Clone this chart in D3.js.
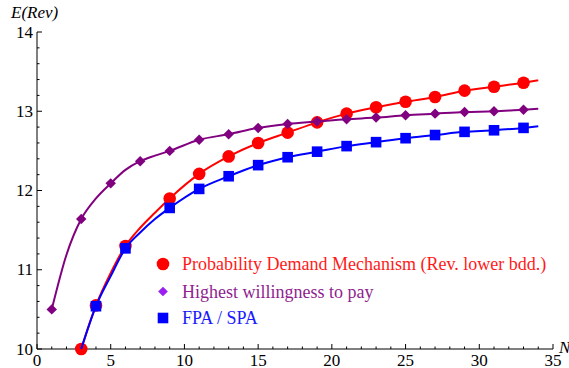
<!DOCTYPE html>
<html>
<head>
<meta charset="utf-8">
<script src="https://cdn.jsdelivr.net/npm/d3@7"></script>
<style>
  body { margin: 0; background: #fff; }
</style>
</head>
<body>
<div id="chart"></div>
<script>
// ---- data ----
const redN    = [3, 4, 5, 6, 7, 8, 9, 11, 13, 15, 17, 19, 21, 23, 25, 27, 29, 31, 33, 34];
const redV    = [10.0, 10.55, 10.96, 11.30, 11.53, 11.72, 11.90, 12.21, 12.43, 12.60, 12.73, 12.86, 12.97, 13.05, 13.12, 13.18, 13.26, 13.31, 13.36, 13.39];
const redMarks = [3, 4, 6, 9, 11, 13, 15, 17, 19, 21, 23, 25, 27, 29, 31, 33];

const purpleN = [1, 2, 3, 4, 5, 6, 7, 8, 9, 11, 13, 15, 17, 19, 21, 23, 25, 27, 29, 31, 33, 34];
const purpleV = [10.50, 11.19, 11.64, 11.90, 12.09, 12.26, 12.37, 12.44, 12.50, 12.64, 12.71, 12.79, 12.84, 12.87, 12.90, 12.92, 12.95, 12.97, 12.99, 13.00, 13.02, 13.03];
const purpleMarks = [1, 3, 5, 7, 9, 11, 13, 15, 17, 19, 21, 23, 25, 27, 29, 31, 33];

const blueN   = [3, 4, 5, 6, 7, 8, 9, 11, 13, 15, 17, 19, 21, 23, 25, 27, 29, 31, 33, 34];
const blueV   = [10.0, 10.54, 10.92, 11.27, 11.47, 11.64, 11.78, 12.02, 12.18, 12.32, 12.42, 12.49, 12.56, 12.61, 12.66, 12.70, 12.74, 12.76, 12.79, 12.81];
const blueMarks = [4, 6, 9, 11, 13, 15, 17, 19, 21, 23, 25, 27, 29, 31, 33];

const xTicks = [0, 5, 10, 15, 20, 25, 30, 35];
const yTicks = [10, 11, 12, 13, 14];

const legendLabels = [
  "Probability Demand Mechanism (Rev. lower bdd.)",
  "Highest willingness to pay",
  "FPA / SPA"
];

const FONT = "Liberation Serif";
const W = 569, H = 368;
const svg = d3.select("#chart").append("svg").attr("width", W).attr("height", H);

const x = d3.scaleLinear().domain([0, 35]).range([37, 553]);
const y = d3.scaleLinear().domain([10, 14]).range([349, 32]);

// axes (ticks point inward, like Mathematica frames)
const axisG = svg.append("g").attr("stroke", "#000").attr("fill", "none");
axisG.append("line").attr("x1", x(0)).attr("x2", x(35)).attr("y1", y(10)).attr("y2", y(10));
axisG.append("line").attr("x1", x(0)).attr("x2", x(0)).attr("y1", y(10)).attr("y2", y(14));

d3.range(0, 36, 1).forEach(v => {
  const major = v % 5 === 0;
  axisG.append("line").attr("x1", x(v)).attr("x2", x(v))
    .attr("y1", y(10)).attr("y2", y(10) - (major ? 5 : 2.5));
});
d3.range(0, 21, 1).forEach(i => {
  const v = 10 + i * 0.2;
  const major = i % 5 === 0;
  axisG.append("line").attr("y1", y(v)).attr("y2", y(v))
    .attr("x1", x(0)).attr("x2", x(0) + (major ? 5 : 2.5));
});

svg.append("g").selectAll("text").data(xTicks).join("text")
  .attr("x", d => x(d)).attr("y", 365.5).attr("font-family", FONT)
  .attr("text-anchor", "middle").attr("font-size", 17).text(d => d);

svg.append("g").selectAll("text").data(yTicks).join("text")
  .attr("x", 33).attr("y", d => y(d) + 5.5).attr("font-family", FONT)
  .attr("text-anchor", "end").attr("font-size", 17).text(d => d);

svg.append("text").attr("x", 11).attr("y", 18).attr("font-size", 17).attr("font-family", FONT)
  .attr("font-style", "italic").text("E(Rev)");
svg.append("text").attr("x", 559).attr("y", 353).attr("font-size", 17).attr("font-family", FONT)
  .attr("font-style", "italic").text("N");

// series
const line = d3.line().x(d => x(d[0])).y(d => y(d[1])).curve(d3.curveMonotoneX);

function series(ns, vs, marks, color) {
  const pts = ns.map((n, i) => [n, vs[i]]);
  svg.append("path").datum(pts).attr("d", line)
    .attr("fill", "none").attr("stroke", color).attr("stroke-width", 2);
  return pts.filter(p => marks.includes(p[0]));
}

const redPts = series(redN, redV, redMarks, "#ff0000");
svg.append("g").selectAll("circle").data(redPts).join("circle")
  .attr("cx", d => x(d[0])).attr("cy", d => y(d[1])).attr("r", 6.3).attr("fill", "#ff0000");

const purplePts = series(purpleN, purpleV, purpleMarks, "#800080");
const diamond = d3.symbol().type(d3.symbolDiamond2).size(70);
svg.append("g").selectAll("path").data(purplePts).join("path")
  .attr("transform", d => `translate(${x(d[0])},${y(d[1])})`)
  .attr("d", diamond).attr("fill", "#800080");

const bluePts = series(blueN, blueV, blueMarks, "#0000ff");
svg.append("g").selectAll("rect").data(bluePts).join("rect")
  .attr("x", d => x(d[0]) - 5.3).attr("y", d => y(d[1]) - 5.3)
  .attr("width", 10.6).attr("height", 10.6).attr("fill", "#0000ff");

// legend
const lg = svg.append("g");
const lx = 163, ly = [264, 291.5, 318];
lg.append("circle").attr("cx", lx).attr("cy", ly[0]).attr("r", 6.3).attr("fill", "#ff0000");
lg.append("path").attr("transform", `translate(${lx},${ly[1]})`)
  .attr("d", d3.symbol().type(d3.symbolDiamond2).size(60)).attr("fill", "#9a1ff0");
lg.append("rect").attr("x", lx - 5.3).attr("y", ly[2] - 5.3)
  .attr("width", 10.6).attr("height", 10.6).attr("fill", "#0000ff");
const legendColors = ["#ff1a1a", "#8f1f8f", "#1a1aff"];
lg.selectAll("text").data(legendLabels).join("text")
  .attr("x", 182).attr("y", (d, i) => ly[i] + 6).attr("font-family", FONT)
  .attr("font-size", 18).attr("fill", (d, i) => legendColors[i]).text(d => d);
</script>
</body>
</html>
